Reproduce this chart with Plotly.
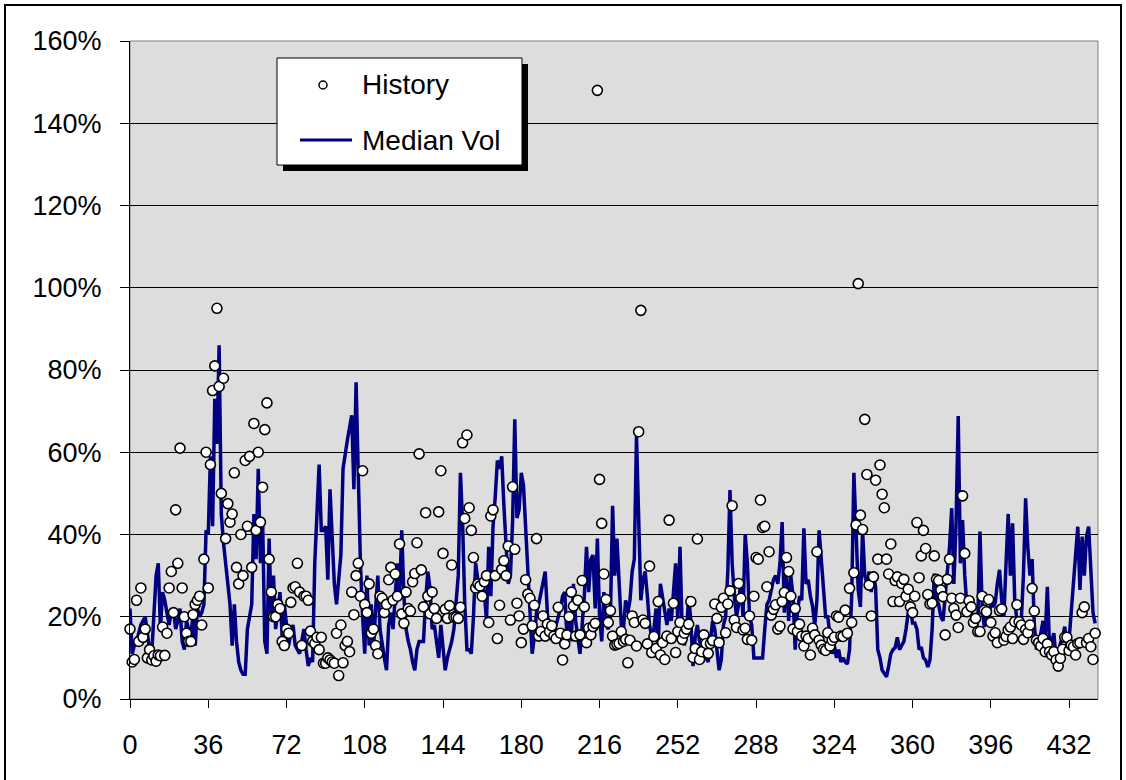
import plotly.graph_objects as go

history = [
    17, 9, 9.6, 24, 14, 27, 15, 17, 10, 12, 9.5, 10.5, 9.2, 10.7, 10.5, 17.5, 10.6, 16, 27, 31,
    21, 46, 33, 61, 27, 20, 16, 14, 14, 20.5, 23, 24, 25, 18, 34, 60, 27, 57, 75, 81,
    95, 76, 50, 78, 39, 47.5, 43, 45, 55, 32, 28, 40, 30, 58, 42, 59, 32, 67, 41, 60,
    43, 51.5, 65.5, 72, 34, 26, 20, 20, 23, 22, 14, 13, 17, 16, 23.5, 27, 27.3, 33, 26, 13,
    25, 25, 24, 16.5, 14, 13.5, 15, 12, 15, 8.7, 8.7, 10, 9.5, 9, 8.7, 16, 5.7, 18, 8.8, 13,
    14, 11.5, 26, 20.5, 30, 33, 25, 55.5, 23, 21, 28, 16, 17, 13, 11, 25, 24.5, 21, 23, 29,
    32, 24, 30.4, 25, 37.7, 20.7, 18.4, 26, 22, 21.4, 28.5, 30.5, 38, 59.6, 31.4, 22.4, 45.3, 25, 20.7, 26,
    22, 19.6, 45.5, 55.5, 35.4, 21.8, 19.6, 22.7, 32.6, 19.9, 19.9, 19.6, 22.3, 62.3, 43.9, 64.2, 46.5, 41, 34.4, 27,
    28, 27.5, 25, 28.5, 30, 18.6, 44.5, 46, 30, 14.7, 22.8, 31.5, 33.6, 30, 37.2, 19.2, 51.6, 36.4, 23.3, 20.2,
    13.7, 17, 29, 25.5, 24.5, 17.8, 22.8, 39, 15.3, 16.4, 20.2, 15.3, 18.2, 16.4, 17.8, 15.3, 14.7, 22.3, 16, 9.5,
    13.4, 15.6, 20, 26, 22.6, 15.3, 24, 15.6, 28.8, 22.4, 13.7, 17.2, 15.6, 17.6, 18.4, 148, 53.4, 42.7, 30.4, 24.2,
    18.6, 21.5, 15.3, 13.1, 13.3, 13.5, 16.4, 14, 14.5, 8.8, 14.3, 20.2, 18.6, 12.9, 65, 94.5, 19.2, 18.4, 13.4, 32.3,
    11.3, 15.2, 12.3, 23.7, 10.7, 13.7, 9.6, 15.3, 43.5, 14.7, 23.3, 11.3, 16.4, 18.6, 14.5, 16, 17, 18.2, 23.7, 10.1,
    12.3, 38.9, 9.6, 11.5, 15.6, 13.5, 11.1, 13.5, 14.2, 23.1, 19.6, 13.7, 22.3, 24.5, 16.1, 23.1, 26.3, 47, 19.2, 17.4,
    28.1, 24.5, 16.8, 17.2, 14.5, 20.2, 14.3, 25, 34.4, 34, 48.4, 41.7, 42, 27.3, 35.8, 20.4, 21.8, 22.9, 17, 17.7,
    23.7, 25.9, 34.4, 31, 25, 17, 22, 16.4, 18.2, 15.3, 12.9, 15.3, 14.7, 10.7, 17.2, 15.6, 35.8, 14.3, 13.1, 12.1,
    11.8, 16.1, 12.9, 14.3, 15, 20.2, 19.9, 15.3, 15.2, 21.6, 16, 26.9, 18.6, 30.7, 42.3, 101, 44.7, 41.2, 68, 54.6,
    27.7, 20.2, 29.7, 53.2, 34, 56.9, 49.8, 46.5, 34, 30.4, 37.7, 23.7, 28.8, 29.7, 23.7, 28.1, 29.1, 25, 26.7, 22.4,
    21, 25, 42.9, 29.5, 34.8, 41, 36.6, 25.4, 23.1, 23.3, 34.8, 29.1, 28.8, 26.5, 24.9, 15.6, 29.1, 34, 24.5, 22,
    20.4, 17.4, 24.5, 49.4, 35.4, 21.2, 23.9, 22.4, 18.6, 19.6, 16.4, 16.4, 25, 21.6, 21.2, 24.2, 18.6, 15.3, 16.1, 13.7,
    21.5, 21.9, 14.3, 15.2, 16.8, 17.5, 14.7, 18.8, 22.9, 18.8, 18, 14.5, 16.9, 16.1, 18, 26.9, 21.4, 14.3, 13.7, 12.9,
    14.7, 11.5, 13.4, 11.5, 10.7, 11.5, 9.5, 8, 9.9, 12.1, 15, 15, 11.8, 13.1, 12.7, 10.7, 13.5, 13.7, 21, 22.4,
    13.7, 14.7, 12.7, 9.6, 16,
]

median_vol = [
    22, 11, 13, 14, 16, 18, 19, 20, 16, 12, 11, 20, 30, 33, 17, 26, 24, 21, 18, 21,
    22, 17, 19, 22, 14, 12, 19, 17, 15, 21, 13, 22, 20, 21, 23, 41, 40, 59, 42, 73,
    62, 86, 45, 38, 33, 30, 23, 13, 23, 14, 9, 7, 6, 6, 17, 20, 23, 45, 34, 56,
    33, 44, 14, 11, 39, 20, 30, 17, 22, 26, 15, 23, 18, 13, 16, 18, 13, 12, 11, 14,
    17, 12, 8, 10, 9, 33, 45, 57, 41, 41, 42, 29, 51, 39, 28, 23, 30, 35, 56, 60,
    63, 66, 69, 51, 77, 55, 33, 20, 11, 30, 13, 23, 12, 22, 30, 17, 13, 10, 7, 18,
    21, 17, 25, 33, 25, 41, 25, 17, 14, 12, 9, 7, 12, 14, 14, 14, 24, 31, 27, 17,
    18, 13, 10, 18, 12, 7, 10, 12, 14, 17, 25, 30, 55, 43, 23, 12, 12, 11, 20, 33,
    29, 25, 28, 26, 19, 37, 25, 42, 49, 58, 56, 59, 47, 36, 28, 30, 43, 68, 44, 46,
    55, 52, 41, 30, 21, 11, 15, 21, 23, 26, 28, 31, 21, 15, 15, 16, 18, 20, 22, 25,
    26, 15, 20, 14, 28, 19, 15, 11, 18, 25, 37, 26, 34, 35, 22, 39, 20, 14, 26, 18,
    17, 20, 47, 30, 39, 30, 18, 17, 24, 21, 24, 31, 34, 64, 40, 24, 29, 31, 25, 18,
    15, 17, 22, 13, 28, 25, 22, 18, 22, 19, 26, 33, 19, 37, 17, 13, 16, 25, 19, 8,
    15, 18, 14, 13, 13.5, 10, 9, 15, 19, 17, 12, 7, 9.5, 18, 20, 31, 50.8, 33, 25, 20,
    23, 29, 20, 40, 33, 20, 18, 10, 10, 10, 10, 10, 17, 23, 24, 27, 29, 30, 28, 33,
    43, 21, 31, 19, 30, 25, 12, 21, 25, 24, 41.5, 28, 29, 25, 22.5, 18, 24, 41, 33, 25,
    20, 20, 15, 11, 13, 10, 12, 9, 10, 9, 8.5, 12, 25, 55, 41, 26.5, 22.4, 41, 30, 28,
    31, 26, 31, 27, 12, 10, 7, 6, 5.4, 8, 11, 12, 12.5, 15, 12, 13, 14, 17, 21, 22,
    18.5, 18.5, 17, 12, 12.6, 10, 9.5, 7.8, 9.5, 17, 30.5, 24, 23, 20, 19, 25, 31, 37, 46.4, 28,
    42.7, 68.8, 33, 43.5, 30, 22.4, 22.4, 21, 20, 17, 19, 40.7, 22.4, 17.5, 21.6, 18.4, 24, 22.4, 23.3, 28.1,
    31.4, 24, 20, 33, 45, 30, 42.7, 24, 19, 20, 19, 30, 48.8, 37, 30, 34, 18, 12, 14, 16,
    19, 15, 27.3, 13, 14, 16, 9.5, 11, 13.5, 15, 17.6, 12.8, 14.4, 22, 29, 37, 41.9, 26.5, 39.5, 30,
    39.5, 41.9, 30.5, 21, 18.4,
]

x_ticks = [0, 36, 72, 108, 144, 180, 216, 252, 288, 324, 360, 396, 432]
y_ticks = [0, 20, 40, 60, 80, 100, 120, 140, 160]

W, H = 1126, 780
L, R, T, B = 130, 28, 41, 81
PW, PH = W - L - R, H - T - B


def xp(px):
    return (px - L) / PW


def yp(py):
    return (H - B - py) / PH


FONT = "Liberation Sans, Arial, sans-serif"

fig = go.Figure()
fig.add_trace(go.Scatter(
    x=list(range(len(median_vol))), y=median_vol, mode="lines",
    name="Median Vol", line=dict(color="#000080", width=3.5),
    showlegend=False, cliponaxis=False,
))
fig.add_trace(go.Scatter(
    x=list(range(len(history))), y=history, mode="markers",
    name="History",
    marker=dict(symbol="circle", size=10, color="white",
                line=dict(color="black", width=1.6)),
    showlegend=False, cliponaxis=False,
))

shapes = [
    dict(type="rect", xref="paper", yref="paper", x0=0, x1=1, y0=0, y1=1,
         line=dict(color="#808080", width=1), layer="below"),
    dict(type="rect", xref="paper", yref="paper", x0=xp(5), x1=xp(1121),
         y0=yp(795), y1=yp(5), line=dict(color="black", width=2),
         fillcolor="rgba(0,0,0,0)", layer="above"),
    dict(type="rect", xref="paper", yref="paper", x0=xp(283), x1=xp(528),
         y0=yp(171), y1=yp(64), line=dict(width=0), fillcolor="black",
         layer="above"),
    dict(type="rect", xref="paper", yref="paper", x0=xp(277), x1=xp(522),
         y0=yp(165), y1=yp(58), line=dict(color="black", width=1),
         fillcolor="white", layer="above"),
    dict(type="line", xref="paper", yref="paper", x0=xp(300), x1=xp(352),
         y0=yp(140), y1=yp(140), line=dict(color="#000080", width=3),
         layer="above"),
    dict(type="circle", xref="paper", yref="paper", x0=xp(319), x1=xp(327),
         y0=yp(89), y1=yp(81), line=dict(color="black", width=1.5),
         fillcolor="white", layer="above"),
]

annotations = [
    dict(text="History", xref="paper", yref="paper", x=xp(360), y=yp(85),
         xanchor="left", yanchor="middle", showarrow=False,
         font=dict(family=FONT, size=28, color="black")),
    dict(text="Median Vol", xref="paper", yref="paper", x=xp(360), y=yp(140),
         xanchor="left", yanchor="middle", showarrow=False,
         font=dict(family=FONT, size=28, color="black")),
]

fig.update_layout(
    width=W, height=H,
    margin=dict(l=L, r=R, t=T, b=B, pad=0),
    paper_bgcolor="white", plot_bgcolor="#DDDDDD",
    font=dict(family=FONT, size=27, color="black"),
    shapes=shapes, annotations=annotations, showlegend=False,
    xaxis=dict(
        range=[0, 445.3], tickmode="array", tickvals=x_ticks,
        ticktext=[str(v) for v in x_ticks],
        ticks="outside", ticklen=8, tickcolor="black", tickwidth=1,
        showline=True, linecolor="black", linewidth=1,
        showgrid=False, zeroline=False,
        tickfont=dict(family=FONT, size=27, color="black"),
        ticklabelstandoff=14,
    ),
    yaxis=dict(
        range=[0, 160], tickmode="array", tickvals=y_ticks,
        ticktext=[f"{v}%" for v in y_ticks],
        ticks="outside", ticklen=9, tickcolor="black", tickwidth=1,
        showline=True, linecolor="black", linewidth=1,
        showgrid=True, gridcolor="black", gridwidth=1, zeroline=False,
        tickfont=dict(family=FONT, size=27, color="black"),
        ticklabelstandoff=13,
    ),
)

fig.write_html(
    "out.html",
    config={"displayModeBar": False},
    post_script="document.body.style.margin='0';document.body.style.overflow='hidden';",
)
